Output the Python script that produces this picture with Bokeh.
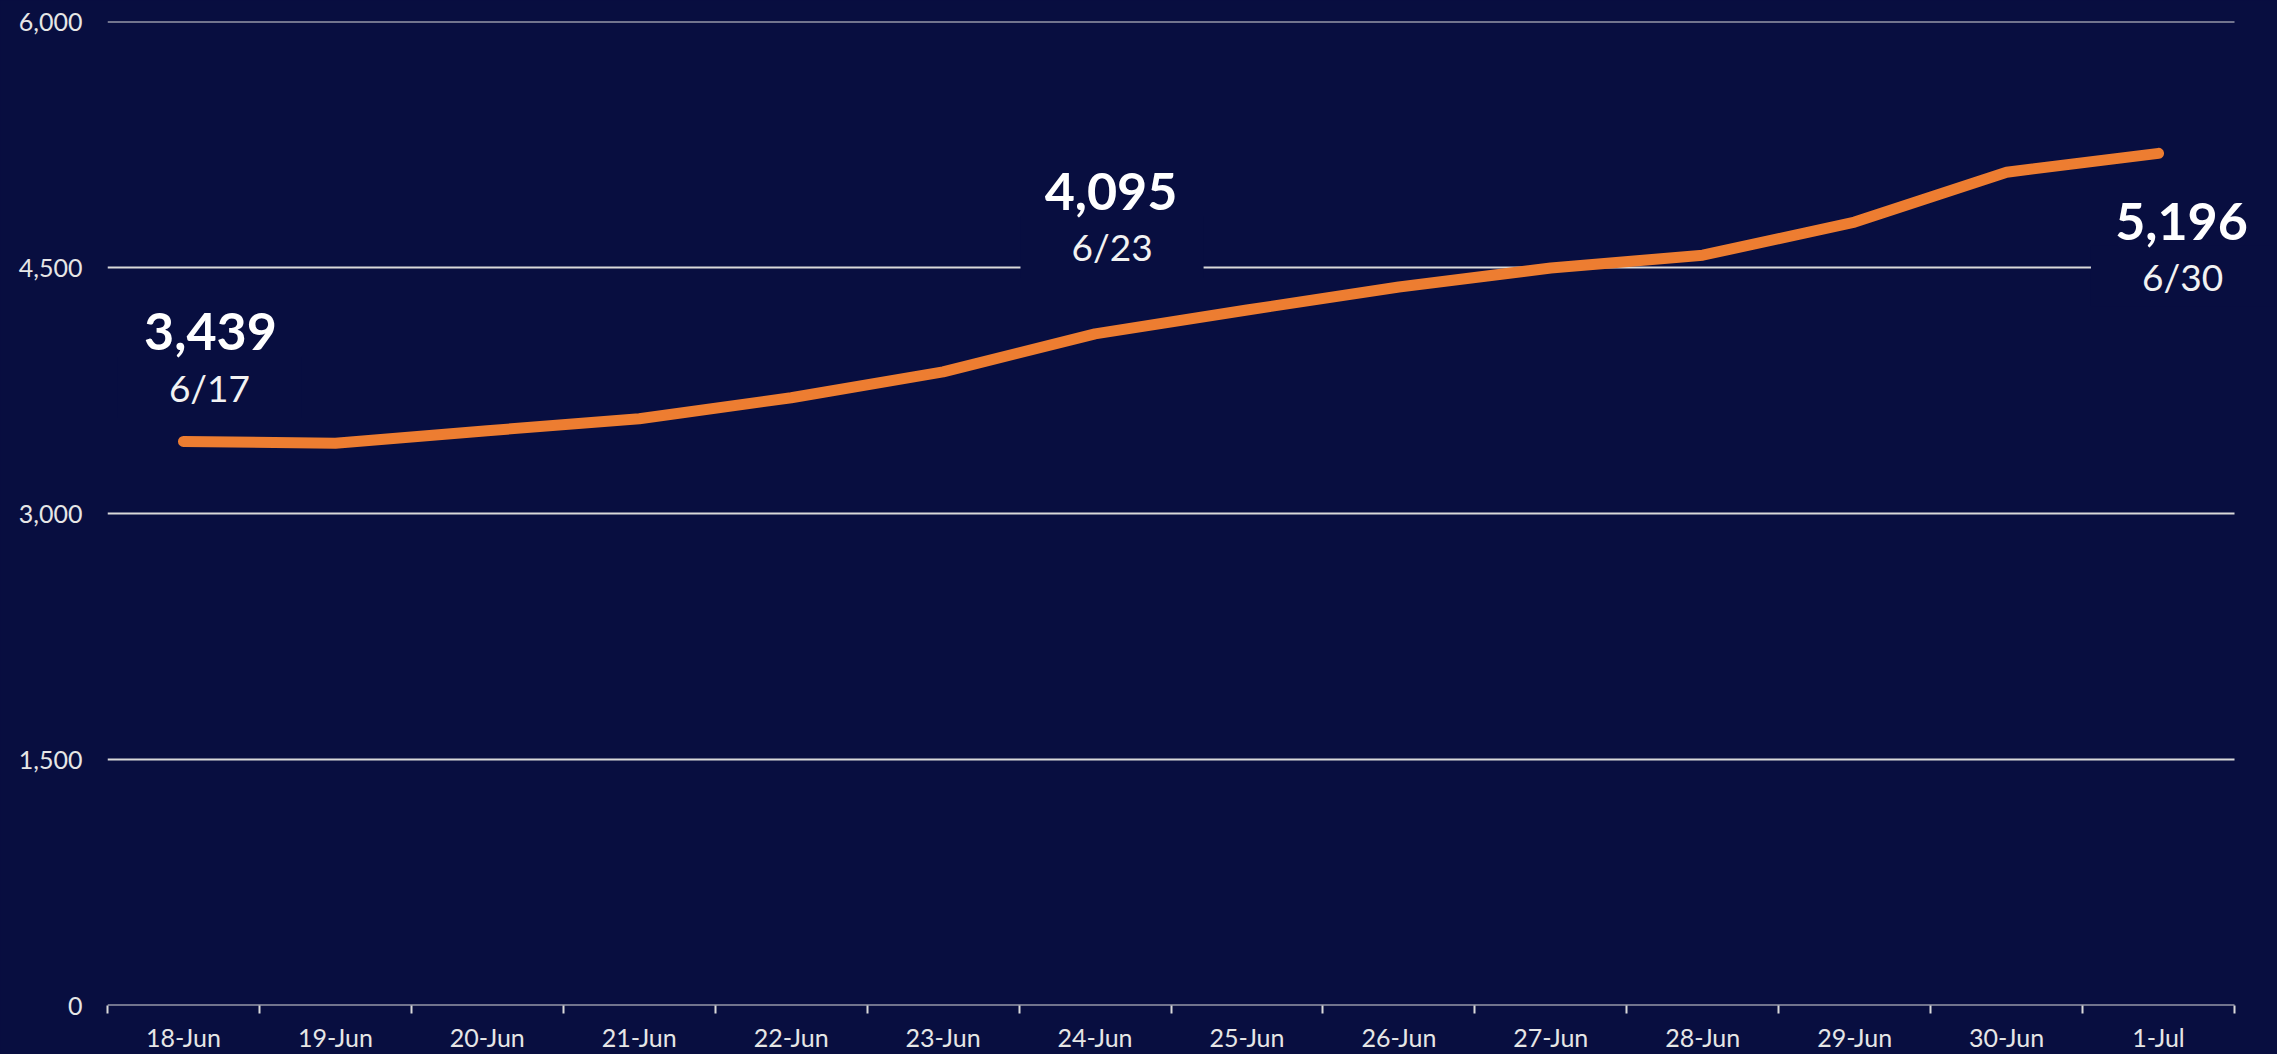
from bokeh.plotting import figure
from bokeh.models import Range1d, FixedTicker, NumeralTickFormatter, Label
from bokeh.embed import file_html
from bokeh.resources import INLINE

# ---- data ----
categories = ["18-Jun", "19-Jun", "20-Jun", "21-Jun", "22-Jun", "23-Jun", "24-Jun",
              "25-Jun", "26-Jun", "27-Jun", "28-Jun", "29-Jun", "30-Jun", "1-Jul"]
values = [3439, 3428, 3505, 3578, 3706, 3864, 4095, 4241, 4381, 4497, 4575, 4777, 5081, 5196]
y_ticks = [0, 1500, 3000, 4500, 6000]
callout_index = [0, 6, 13]
callout_dates = ["6/17", "6/23", "6/30"]

BG = "#080e40"
ORANGE = "#ed7d31"
GRID = "#d9d9d9"
FONT = "Lato"

n = len(categories)
xs = [i + 0.5 for i in range(n)]

# frame runs to the page edge so the right-hand callout is not clipped;
# the plotted area (gridlines, axis) stops at the last category boundary
p = figure(width=2277, height=1054, output_backend="svg", toolbar_location=None,
           x_range=Range1d(0, n + 0.283), y_range=Range1d(0, 6000),
           min_border_left=107, min_border_right=0, min_border_top=21, min_border_bottom=47)
p.background_fill_color = BG
p.border_fill_color = BG
p.outline_line_color = None

# grid lines (drawn over the category span only)
p.xgrid.visible = False
p.ygrid.visible = False
p.segment(x0=[0] * len(y_ticks), x1=[n] * len(y_ticks), y0=y_ticks, y1=y_ticks,
          line_color=GRID, line_width=2.2)

# y axis
ya = p.yaxis[0]
ya.ticker = FixedTicker(ticks=y_ticks)
ya.formatter = NumeralTickFormatter(format="0,0")
ya.axis_line_color = None
ya.major_tick_line_color = None
ya.minor_tick_line_color = None
ya.major_tick_out = 0
ya.major_tick_in = 0
ya.major_label_standoff = 25
ya.major_label_text_font = FONT
ya.major_label_text_font_size = "25px"
ya.major_label_text_color = "#e6e6e6"

# x axis
xa = p.xaxis[0]
xa.ticker = FixedTicker(ticks=xs, minor_ticks=list(range(n + 1)))
xa.major_label_overrides = {x: c for x, c in zip(xs, categories)}
xa.axis_line_color = None
xa.major_tick_out = 0
xa.major_tick_in = 0
xa.major_tick_line_color = None
xa.minor_tick_out = 8
xa.minor_tick_in = 0
xa.minor_tick_line_color = GRID
xa.minor_tick_line_width = 2
xa.major_label_standoff = 8
xa.major_label_text_font = FONT
xa.major_label_text_font_size = "25px"
xa.major_label_text_color = "#e6e6e6"

# line
p.line(xs, values, line_color=ORANGE, line_width=11, line_cap="round", line_join="round")

# callouts
offsets = [(27, 110, 26, 54), (16, 142, 17, 87), (23, -68, 24, -123)]
for idx, date, (dxv, dyv, dxd, dyd) in zip(callout_index, callout_dates, offsets):
    p.add_layout(Label(x=xs[idx], y=values[idx], text=date, x_offset=dxd, y_offset=dyd,
                       text_align="center", text_baseline="middle", text_font=FONT,
                       text_font_size="37px", text_color="#f2f2f2",
                       background_fill_color=BG, padding=(51, 8)))
    p.add_layout(Label(x=xs[idx], y=values[idx], text=f"{values[idx]:,}",
                       x_offset=dxv, y_offset=dyv,
                       text_align="center", text_baseline="middle", text_font=FONT,
                       text_font_style="bold", text_font_size="52px", text_color="#ffffff"))

html = file_html(p, INLINE)
html = html.replace("<body>", '<body style="background:%s">' % BG)
open("out.html", "w").write(html)
